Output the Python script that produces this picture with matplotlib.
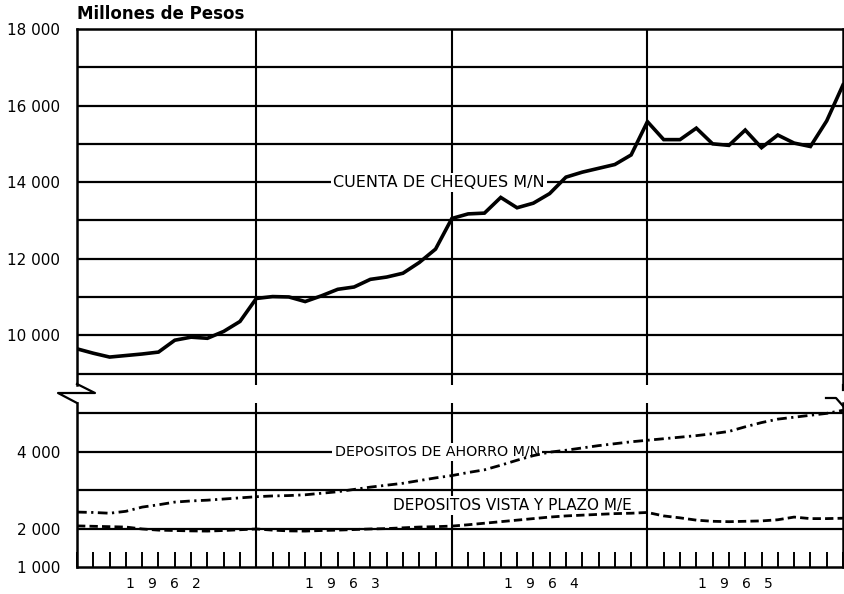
import numpy as np
import matplotlib
matplotlib.use("Agg")
import matplotlib.pyplot as plt
from matplotlib.lines import Line2D

# monthly data, Jan 1962 .. Dec 1965 (millones de pesos)
meses = np.arange(48)

cuenta_cheques = [9645, 9530, 9430, 9470, 9510, 9560, 9870, 9950, 9920, 10100, 10360, 10960,
                  11010, 11000, 10880, 11030, 11200, 11260, 11460, 11520, 11620, 11900, 12250, 13050,
                  13170, 13190, 13600, 13330, 13450, 13700, 14130, 14260, 14360, 14460, 14710, 15580,
                  15110, 15110, 15410, 15000, 14960, 15360, 14900, 15230, 15020, 14930, 15600, 16540]

depositos_ahorro = [2430, 2420, 2400, 2450, 2560, 2620, 2690, 2720, 2740, 2770, 2800, 2830,
                    2850, 2860, 2880, 2920, 2960, 3020, 3080, 3130, 3180, 3250, 3320, 3380,
                    3460, 3530, 3650, 3780, 3900, 3990, 4040, 4100, 4160, 4210, 4260, 4300,
                    4340, 4380, 4420, 4470, 4530, 4650, 4760, 4850, 4900, 4950, 5000, 5080]

depositos_vista = [2070, 2060, 2050, 2040, 1990, 1960, 1950, 1940, 1935, 1950, 1970, 1990,
                   1960, 1940, 1935, 1950, 1960, 1975, 1990, 2000, 2020, 2040, 2050, 2065,
                   2100, 2140, 2180, 2220, 2260, 2300, 2330, 2350, 2370, 2390, 2400, 2420,
                   2330, 2280, 2220, 2190, 2180, 2190, 2200, 2230, 2300, 2260, 2260, 2270]

anios = ["1   9   6   2", "1   9   6   3", "1   9   6   4", "1   9   6   5"]
anios_pos = [5.3, 16.3, 28.5, 40.4]
fin_de_anio = [11, 23, 35]

ticks_arriba = [10000, 12000, 14000, 16000, 18000]
ticks_abajo = [1000, 2000, 4000]

W, H = 845, 594
fig = plt.figure(figsize=(W / 100, H / 100), dpi=100)

def box(left, top, right, bottom):
  return [left / W, 1 - bottom / H, (right - left) / W, (bottom - top) / H]

ax1 = fig.add_axes(box(77, 29, 843, 385))
ax2 = fig.add_axes(box(77, 403, 843, 567))

ax1.set_ylim(8700, 18000)
ax2.set_ylim(1000, 5270)

for ax in (ax1, ax2):
  ax.set_xlim(0, 47)
  for s in ax.spines.values():
    s.set_linewidth(1.8)
  for xv in fin_de_anio:
    ax.axvline(xv, color="black", lw=1.5, zorder=1)

ax1.spines["bottom"].set_visible(False)
ax2.spines["top"].set_visible(False)

# horizontal rules every 1000
for v in range(9000, 18000, 1000):
  ax1.axhline(v, color="black", lw=1.6, zorder=1)
for v in range(2000, 6000, 1000):
  ax2.axhline(v, color="black", lw=1.6, zorder=1)

tick_font = dict(fontsize=11, family="DejaVu Sans")
ax1.set_yticks(ticks_arriba)
ax1.set_yticklabels(["{:,}".format(t).replace(",", " ") for t in ticks_arriba], **tick_font)
ax2.set_yticks(ticks_abajo)
ax2.set_yticklabels(["{:,}".format(t).replace(",", " ") for t in ticks_abajo], **tick_font)
ax1.tick_params(axis="y", length=0, pad=12)
ax2.tick_params(axis="y", length=0, pad=12)
ax1.set_xticks([])

ax2.set_xticks(meses)
ax2.set_xticklabels([])
ax2.tick_params(axis="x", direction="in", length=11, width=1.4)

# series
ax1.plot(meses, cuenta_cheques, color="black", lw=2.6, solid_joinstyle="miter", zorder=4)
ax2.plot(meses, depositos_ahorro, color="black", lw=2.0, dashes=[3.5, 1.6, 0.8, 1.6], zorder=4)
ax2.plot(meses, depositos_vista, color="black", lw=2.0, dashes=[3.0, 1.5], zorder=4)

lbl = dict(ha="center", va="center", color="black", family="DejaVu Sans", zorder=3,
           bbox=dict(facecolor="white", edgecolor="none", pad=1.5))
ax1.text(22.2, 14000, "CUENTA DE CHEQUES M/N", fontsize=11.5, **lbl)
ax2.text(22.1, 4000, "DEPOSITOS DE AHORRO M/N", fontsize=10.3, **lbl)
ax2.text(26.7, 2600, "DEPOSITOS VISTA Y PLAZO M/E", fontsize=11, **lbl)

for xp, t in zip(anios_pos, anios):
  ax2.text(xp, -0.105, t, transform=ax2.get_xaxis_transform(), ha="center", va="center",
           fontsize=10, family="DejaVu Sans")

fig.text(77 / W, 1 - 14 / H, "Millones de Pesos", ha="left", va="center",
         fontsize=12, fontweight="bold", family="DejaVu Sans")

# axis break marks
def fig_line(pts):
  xs = [p[0] / W for p in pts]
  ys = [1 - p[1] / H for p in pts]
  fig.add_artist(Line2D(xs, ys, color="black", lw=1.6, transform=fig.transFigure))

fig_line([(77, 384), (95, 393), (58, 393), (77, 403)])
fig_line([(843, 385), (843, 390)])
fig_line([(826, 398), (836, 398), (843, 406)])

fig.savefig("out.png", dpi=100)
